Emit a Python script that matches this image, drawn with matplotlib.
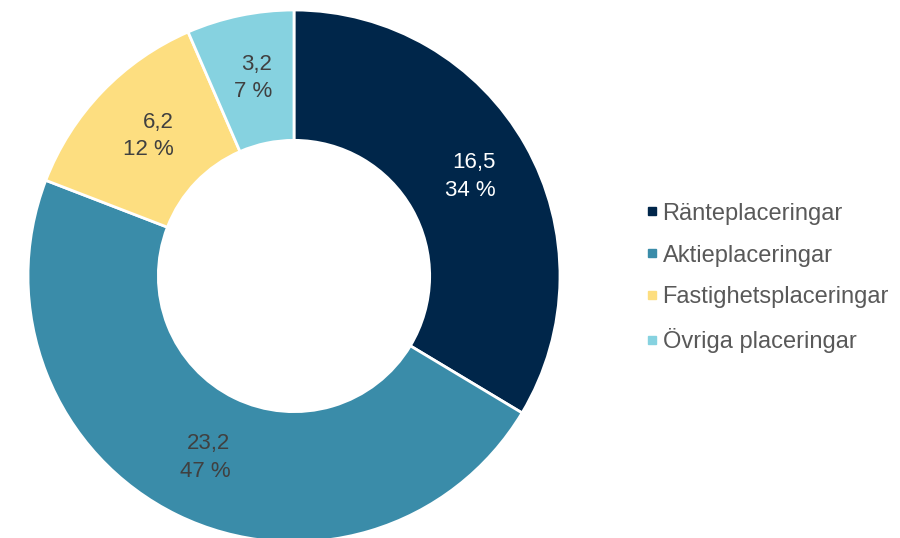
import matplotlib.pyplot as plt
import numpy as np
from matplotlib.lines import Line2D

plt.rcParams['font.family'] = ['Liberation Sans', 'DejaVu Sans']

# data
categories = ['Ränteplaceringar', 'Aktieplaceringar', 'Fastighetsplaceringar', 'Övriga placeringar']
values = [16.5, 23.2, 6.2, 3.2]
value_labels = ['16,5', '23,2', '6,2', '3,2']
pct_labels = ['34 %', '47 %', '12 %', '7 %']
colors = ['#00264A', '#3A8CA9', '#FDDE80', '#86D2E0']
label_colors = ['white', '#404040', '#404040', '#404040']

fig = plt.figure(figsize=(9, 5.38), dpi=100)
# square axes, ring centred at (294, 276) px, radius 266 px
cx, cy, R = 294, 276, 266
ax = fig.add_axes([(cx - R) / 900, (538 - cy - R) / 538, 2 * R / 900, 2 * R / 538])

wedges, _ = ax.pie(values, colors=colors, startangle=90, counterclock=False,
                   radius=1, wedgeprops=dict(width=0.49, edgecolor='white', linewidth=2))
ax.set_xlim(-1, 1)
ax.set_ylim(-1, 1)
ax.axis('off')

r_lab = 0.76
for w, v, p, c in zip(wedges, value_labels, pct_labels, label_colors):
    ang = np.deg2rad((w.theta1 + w.theta2) / 2)
    ax.text(r_lab * np.cos(ang), r_lab * np.sin(ang), v + '\n' + p,
            ha='center', va='center', multialignment='right',
            fontsize=16, color=c, linespacing=1.4)

handles = [Line2D([], [], marker='s', linestyle='', markersize=6,
                  markerfacecolor=c, markeredgecolor=c) for c in colors]
leg = fig.legend(handles, categories, loc='center left',
                 bbox_to_anchor=(633 / 900, 1 - 278 / 538),
                 frameon=False, fontsize=17, handlelength=0.6,
                 handletextpad=0.15, labelspacing=0.84, borderpad=0)
for t in leg.get_texts():
    t.set_color('#595959')

plt.savefig('out.png', dpi=100)
